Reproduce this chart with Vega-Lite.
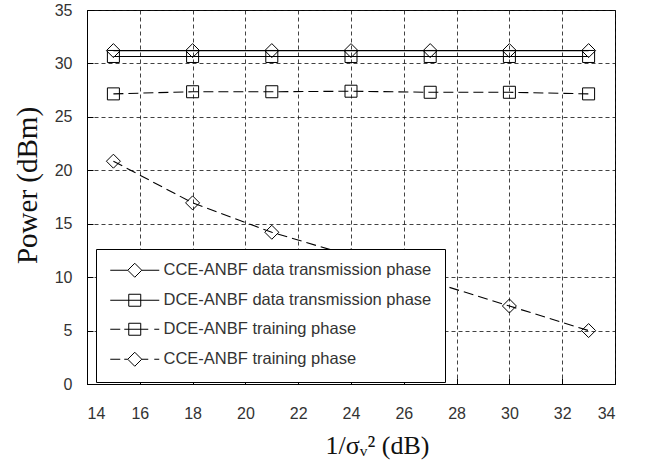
{
  "$schema": "https://vega.github.io/schema/vega-lite/v6.json",
  "width": 528,
  "height": 374,
  "autosize": {"type": "none"},
  "padding": {"left": 87, "top": 10, "right": 30, "bottom": 90},
  "background": "white",
  "config": {
    "view": {"stroke": "black", "strokeWidth": 1},
    "axis": {
      "domainColor": "black",
      "tickColor": "black",
      "tickSize": -6,
      "grid": true,
      "gridColor": "#111",
      "gridDash": [4, 3],
      "gridWidth": 0.8,
      "labelFont": "Liberation Sans",
      "labelFontSize": 16,
      "labelColor": "#333",
      "titleFont": "Liberation Serif",
      "titleFontWeight": "normal",
      "titleFontSize": 26,
      "titleColor": "#111"
    }
  },
  "data": {
    "values": [
      {"x": 15, "y": 31.2, "series": "CCE-ANBF data transmission phase"},
      {"x": 18, "y": 31.2, "series": "CCE-ANBF data transmission phase"},
      {"x": 21, "y": 31.2, "series": "CCE-ANBF data transmission phase"},
      {"x": 24, "y": 31.2, "series": "CCE-ANBF data transmission phase"},
      {"x": 27, "y": 31.2, "series": "CCE-ANBF data transmission phase"},
      {"x": 30, "y": 31.2, "series": "CCE-ANBF data transmission phase"},
      {"x": 33, "y": 31.2, "series": "CCE-ANBF data transmission phase"},
      {"x": 15, "y": 30.65, "series": "DCE-ANBF data transmission phase"},
      {"x": 18, "y": 30.65, "series": "DCE-ANBF data transmission phase"},
      {"x": 21, "y": 30.65, "series": "DCE-ANBF data transmission phase"},
      {"x": 24, "y": 30.65, "series": "DCE-ANBF data transmission phase"},
      {"x": 27, "y": 30.65, "series": "DCE-ANBF data transmission phase"},
      {"x": 30, "y": 30.65, "series": "DCE-ANBF data transmission phase"},
      {"x": 33, "y": 30.65, "series": "DCE-ANBF data transmission phase"},
      {"x": 15, "y": 27.15, "series": "DCE-ANBF training phase"},
      {"x": 18, "y": 27.35, "series": "DCE-ANBF training phase"},
      {"x": 21, "y": 27.35, "series": "DCE-ANBF training phase"},
      {"x": 24, "y": 27.4, "series": "DCE-ANBF training phase"},
      {"x": 27, "y": 27.3, "series": "DCE-ANBF training phase"},
      {"x": 30, "y": 27.3, "series": "DCE-ANBF training phase"},
      {"x": 33, "y": 27.15, "series": "DCE-ANBF training phase"},
      {"x": 15, "y": 20.85, "series": "CCE-ANBF training phase"},
      {"x": 18, "y": 16.95, "series": "CCE-ANBF training phase"},
      {"x": 21, "y": 14.2, "series": "CCE-ANBF training phase"},
      {"x": 24, "y": 12.0, "series": "CCE-ANBF training phase"},
      {"x": 27, "y": 9.6, "series": "CCE-ANBF training phase"},
      {"x": 30, "y": 7.3, "series": "CCE-ANBF training phase"},
      {"x": 33, "y": 5.0, "series": "CCE-ANBF training phase"}
    ]
  },
  "encoding": {
    "x": {
      "field": "x", "type": "quantitative",
      "scale": {"domain": [14, 34], "nice": false, "zero": false},
      "axis": {"values": [14, 16, 18, 20, 22, 24, 26, 28, 30, 32, 34], "title": "1/σᵥ² (dB)", "labelPadding": 27, "titlePadding": 11, "titleX": 290}
    },
    "y": {
      "field": "y", "type": "quantitative",
      "scale": {"domain": [0, 35], "nice": false},
      "axis": {"values": [0, 5, 10, 15, 20, 25, 30, 35], "title": "Power (dBm)", "labelPadding": 21, "titlePadding": 12, "titleFontSize": 29, "titleY": 175}
    }
  },
  "layer": [
    {
      "mark": {"type": "line", "color": "black", "strokeWidth": 1.1},
      "encoding": {
        "detail": {"field": "series"},
        "strokeDash": {
          "field": "series", "type": "nominal",
          "scale": {
            "domain": ["CCE-ANBF data transmission phase", "DCE-ANBF data transmission phase", "DCE-ANBF training phase", "CCE-ANBF training phase"],
            "range": [[1, 0], [1, 0], [10, 5], [10, 5]]
          },
          "legend": null
        }
      }
    },
    {
      "mark": {"type": "point", "filled": false, "color": "black", "strokeWidth": 1, "size": 196, "opacity": 1},
      "encoding": {
        "shape": {
          "field": "series", "type": "nominal",
          "scale": {
            "domain": ["CCE-ANBF data transmission phase", "DCE-ANBF data transmission phase", "DCE-ANBF training phase", "CCE-ANBF training phase"],
            "range": ["M-1,0L0,-1L1,0L0,1Z", "M-0.857,-0.857H0.857V0.857H-0.857Z", "M-0.857,-0.857H0.857V0.857H-0.857Z", "M-1,0L0,-1L1,0L0,1Z"]
          },
          "legend": null
        }
      }
    },
    {
      "mark": {"type": "point", "filled": false, "color": "black", "strokeWidth": 1, "size": 196, "opacity": 0},
      "encoding": {
        "shape": {
          "field": "series", "type": "nominal",
          "scale": {
            "domain": ["CCE-ANBF data transmission phase", "DCE-ANBF data transmission phase", "DCE-ANBF training phase", "CCE-ANBF training phase"],
            "range": [
              "M-1,0H1.5M1.5,0L2.5,-1L3.5,0L2.5,1ZM3.5,0H6",
              "M-1,0H6M1.643,-0.857H3.357V0.857H1.643Z",
              "M-1,0H0.43M1,0H4.43M1.643,-0.857H3.357V0.857H1.643ZM5.29,0H6",
              "M-1,0H0.43M1,0H1.5M1.5,0L2.5,-1L3.5,0L2.5,1ZM3.5,0H4.43M5.29,0H6"
            ]
          },
          "legend": {
            "title": null,
            "orient": "none",
            "legendX": 9,
            "legendY": 239,
            "padding": 13,
            "rowPadding": 12,
            "labelOffset": 38,
            "labelFont": "Liberation Sans",
            "labelFontSize": 16.5,
            "labelColor": "#333",
            "labelLimit": 400,
            "symbolSize": 196,
            "symbolOpacity": 1,
            "symbolStrokeColor": "black",
            "symbolFillColor": "transparent",
            "symbolStrokeWidth": 1,
            "strokeColor": "black",
            "fillColor": "white"
          }
        }
      }
    }
  ],
  "resolve": {"scale": {"shape": "independent"}, "legend": {"shape": "independent"}}
}
